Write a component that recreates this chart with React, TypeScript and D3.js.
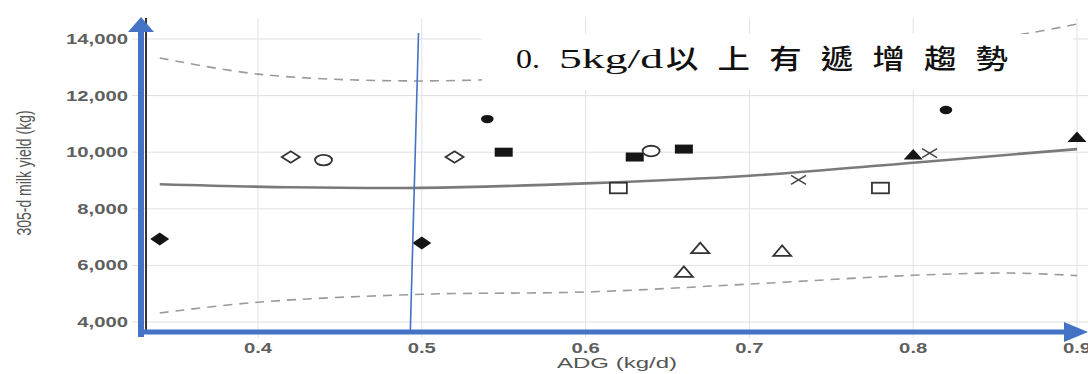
import * as d3 from "d3";

// x tick values and y tick values
const xTicks = [0.4, 0.5, 0.6, 0.7, 0.8, 0.9];
const yTicks = [4000, 6000, 8000, 10000, 12000, 14000];

// individual herds: ADG (kg/d), 305-d milk yield (kg), marker type
const adg = [0.34, 0.5, 0.42, 0.44, 0.52, 0.54, 0.55, 0.63, 0.64, 0.66, 0.62, 0.66, 0.67, 0.72, 0.73, 0.81, 0.8, 0.9, 0.82, 0.78];
const milk = [6930, 6790, 9830, 9720, 9830, 11170, 10000, 9830, 10040, 10110, 8735, 5770, 6610, 6510, 9020, 9970, 9920, 10540, 11490, 8735];
const markers = [
  "diamondFilled", "diamondFilled", "diamondOpen", "circleOpen", "diamondOpen", "circleFilled", "squareFilled",
  "squareFilled", "circleOpen", "squareFilled", "squareOpen", "triangleOpen", "triangleOpen", "triangleOpen",
  "cross", "cross", "triangleFilled", "triangleFilled", "circleFilled", "squareOpen",
];

// fitted curve and confidence band
const fitX = [0.34, 0.42, 0.5, 0.6, 0.7, 0.8, 0.9];
const fitY = [8870, 8760, 8740, 8900, 9170, 9630, 10110];
const upperX = [0.34, 0.4, 0.49, 0.6, 0.7, 0.8, 0.87, 0.9];
const upperY = [13330, 12760, 12520, 12700, 13050, 13650, 14200, 14530];
const lowerX = [0.34, 0.4, 0.5, 0.6, 0.7, 0.8, 0.86, 0.9];
const lowerY = [4320, 4700, 4980, 5060, 5340, 5650, 5730, 5640];

// annotation, split the way it is typeset
const notePieces = ["0.", "5kg/d"];
const noteCjk = "以上有遞增趨勢";

const W = 1088;
const H = 374;
const SX = 1.45; // picture is stretched horizontally
const blue = "#4472C4";

const x = d3.scaleLinear().domain([0.4, 0.9]).range([258, 1077]);
const y = d3.scaleLinear().domain([4000, 14000]).range([322, 39]);

const plot = { left: 146, right: W, top: 18, bottom: 331 };

function Marker({ type, cx, cy }: { type: string; cx: number; cy: number }) {
  const t = `translate(${cx},${cy})`;
  const ink = "#151515";
  const sw = 1.8;
  switch (type) {
    case "diamondFilled":
      return <path transform={t} d="M-9.5,0L0,-6.5L9.5,0L0,6.5Z" fill={ink} />;
    case "diamondOpen":
      return <path transform={t} d="M-9,0L0,-5.7L9,0L0,5.7Z" fill="#fff" stroke="#333" strokeWidth={sw} />;
    case "circleOpen":
      return <ellipse transform={t} rx={8.5} ry={5.3} fill="#fff" stroke="#333" strokeWidth={sw} />;
    case "circleFilled":
      return <ellipse transform={t} rx={6.3} ry={4.2} fill={ink} />;
    case "squareFilled":
      return <rect transform={t} x={-9} y={-4.5} width={18} height={9} fill={ink} />;
    case "squareOpen":
      return <rect transform={t} x={-8.5} y={-5.3} width={17} height={10.6} fill="#fff" stroke="#333" strokeWidth={sw} />;
    case "triangleOpen":
      return <path transform={t} d="M-9,5L0,-5.5L9,5Z" fill="#fff" stroke="#333" strokeWidth={sw} />;
    case "triangleFilled":
      return <path transform={t} d="M-9.5,5L0,-5.5L9.5,5Z" fill={ink} />;
    case "cross":
      return <path transform={t} d="M-7.5,-4.5L7.5,4.5M-7.5,4.5L7.5,-4.5" fill="none" stroke="#444" strokeWidth={1.5} />;
    default:
      return null;
  }
}

export default function App() {
  const path = d3
    .line<[number, number]>()
    .x((d) => x(d[0]))
    .y((d) => y(d[1]))
    .curve(d3.curveCatmullRom.alpha(0.5));
  const fitD = path(fitX.map((v, i) => [v, fitY[i]]));
  const upD = path(upperX.map((v, i) => [v, upperY[i]]));
  const loD = path(lowerX.map((v, i) => [v, lowerY[i]]));

  const serif = "'Liberation Serif', 'DejaVu Serif', serif";

  return (
    <svg width={W} height={H} style={{ position: "absolute", left: 0, top: 0, background: "#fff" }}>
      <defs>
        <clipPath id="plotClip">
          <rect x={plot.left} y={plot.top} width={plot.right - plot.left} height={plot.bottom - plot.top} />
        </clipPath>
      </defs>
      <rect width={W} height={H} fill="#fff" />

      {/* grid */}
      <g stroke="#dfe1e6" strokeWidth={1}>
        {yTicks.map((v) => (
          <line key={"h" + v} x1={132} x2={W} y1={y(v)} y2={y(v)} />
        ))}
        {xTicks.map((v) => (
          <line key={"v" + v} x1={x(v)} x2={x(v)} y1={plot.top} y2={338} />
        ))}
      </g>

      <g clipPath="url(#plotClip)">
        <path d={upD ?? ""} fill="none" stroke="#9a9a9a" strokeWidth={1.6} strokeDasharray="9,7" />
        <path d={loD ?? ""} fill="none" stroke="#9a9a9a" strokeWidth={1.6} strokeDasharray="9,7" />
        <path d={fitD ?? ""} fill="none" stroke="#7a7a7a" strokeWidth={2.6} />
        {adg.map((v, i) => (
          <Marker key={i} type={markers[i]} cx={x(v)} cy={y(milk[i])} />
        ))}
      </g>

      {/* annotation box */}
      <rect x={482} y={34} width={591} height={56} fill="#fff" />
      <g fill="#111" fontFamily={serif} fontSize={27}>
        <text x={516} y={68} textLength={24} lengthAdjust="spacingAndGlyphs">
          {notePieces[0]}
        </text>
        <text x={559} y={68} textLength={104} lengthAdjust="spacingAndGlyphs">
          {notePieces[1]}
        </text>
      </g>
      <text
        transform="translate(666,69) scale(1.2,1)"
        fontFamily="'Noto Sans CJK TC', 'Noto Sans CJK SC', sans-serif"
        fontSize={27}
        fontWeight={500}
        fill="#111"
        textLength={285}
        lengthAdjust="spacing"
      >
        {noteCjk}
      </text>

      {/* original dark y axis line */}
      <line x1={146} x2={146} y1={plot.top} y2={plot.bottom} stroke="#333" strokeWidth={2} />

      {/* tick labels */}
      <g fontFamily="'Liberation Sans', Arial, sans-serif" fontSize={14} fontWeight="bold" fill="#5f5f5f">
        {yTicks.map((v) => (
          <text key={"yl" + v} transform={`translate(128,${y(v) + 5}) scale(${SX},1)`} textAnchor="end">
            {d3.format(",")(v)}
          </text>
        ))}
        {xTicks.map((v) => (
          <text key={"xl" + v} transform={`translate(${x(v)},353) scale(${SX},1)`} textAnchor="middle">
            {d3.format(".1f")(v)}
          </text>
        ))}
      </g>
      <g fontFamily="'Liberation Sans', Arial, sans-serif" fill="#555">
        <text transform={`translate(617,368) scale(1.55,1)`} textAnchor="middle" fontSize={15.5}>
          ADG (kg/d)
        </text>
        <text transform={`translate(31,173) scale(${SX},1) rotate(-90)`} textAnchor="middle" fontSize={14}>
          305-d milk yield (kg)
        </text>
      </g>

      {/* blue arrows drawn over the chart */}
      <line x1={141} x2={141} y1={337} y2={30} stroke={blue} strokeWidth={6} />
      <path d="M128,32L141,17L154,32Z" fill={blue} />
      <line x1={138} x2={1066} y1={332} y2={332} stroke={blue} strokeWidth={5} />
      <path d="M1064,322L1088,332L1064,342Z" fill={blue} />
      <line x1={x(0.498)} x2={x(0.493)} y1={33} y2={331} stroke={blue} strokeWidth={1.6} />
    </svg>
  );
}
